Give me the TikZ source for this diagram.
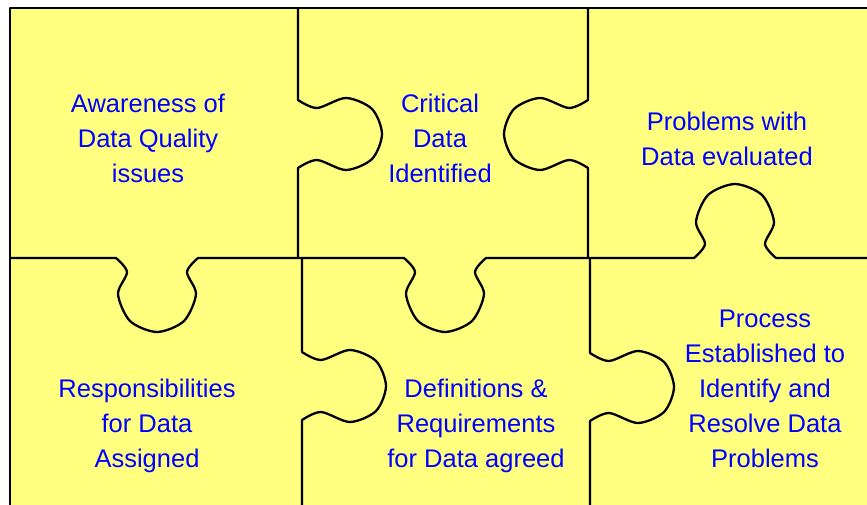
\documentclass[tikz,border=0pt]{standalone}
\usepackage{fontspec}
\setmainfont{Liberation Sans}
\definecolor{pieceyellow}{RGB}{255,255,128}
\definecolor{textblue}{RGB}{0,0,255}
% knob on a horizontal seam: centre x, seam y, side (1 down, -1 up)
\newcommand{\hknob}[3]{-- plot[smooth] coordinates {({#1-41},#2) ({#1-30},{#2+(#3)*14})
  ({#1-39},{#2+(#3)*36}) ({#1-27},{#2+(#3)*63}) (#1,{#2+(#3)*74}) ({#1+27},{#2+(#3)*63})
  ({#1+39},{#2+(#3)*36}) ({#1+30},{#2+(#3)*14}) ({#1+41},#2)}}
% knob on a vertical seam: seam x, centre y, side (1 right, -1 left)
\newcommand{\vknob}[3]{-- plot[smooth] coordinates {(#1,{#2-34}) ({#1+(#3)*19},{#2-26})
  ({#1+(#3)*48},{#2-36}) ({#1+(#3)*74},{#2-25}) ({#1+(#3)*84},#2) ({#1+(#3)*74},{#2+25})
  ({#1+(#3)*48},{#2+36}) ({#1+(#3)*19},{#2+26}) (#1,{#2+34})}}
\begin{document}
\begin{tikzpicture}
	[x=1pt,y=-1pt,
	 seam/.style={line width=2.3pt,line join=round},
	 piecetext/.style={align=center,text=textblue,inner sep=0pt,
	   font=\fontsize{25.5}{35}\selectfont}]
\useasboundingbox (0,0) rectangle (867,505);
\fill[pieceyellow] (10,8) rectangle (875,515);
\draw[seam] (10,515) -- (10,8) -- (875,8);
% seam between the two rows
\draw[seam] (10,258) \hknob{157}{258}{1} \hknob{445}{258}{1} \hknob{735}{258}{-1} -- (875,258);
% seams inside the rows
\draw[seam] (298,8) \vknob{298}{134}{1} -- (298,258);
\draw[seam] (588,8) \vknob{588}{134}{-1} -- (588,258);
\draw[seam] (302,258) \vknob{302}{386}{1} -- (302,515);
\draw[seam] (590,258) \vknob{590}{387}{1} -- (590,515);
% texts
\node[piecetext] (aware) at (148,138) {Awareness of\\Data Quality\\issues};
\node[piecetext] (critical) at (440,138) {Critical\\Data\\Identified};
\node[piecetext] (problems) at (727,139) {Problems with\\Data evaluated};
\node[piecetext] (respons) at (147,426) {Responsibilities\\for Data\\Assigned};
\node[piecetext] (defin) at (476,426) {Definitions \&\\Requirements\\for Data agreed};
\node[piecetext] (process) at (765,389) {Process\\Established to\\Identify and\\Resolve Data\\Problems};
\end{tikzpicture}
\end{document}
